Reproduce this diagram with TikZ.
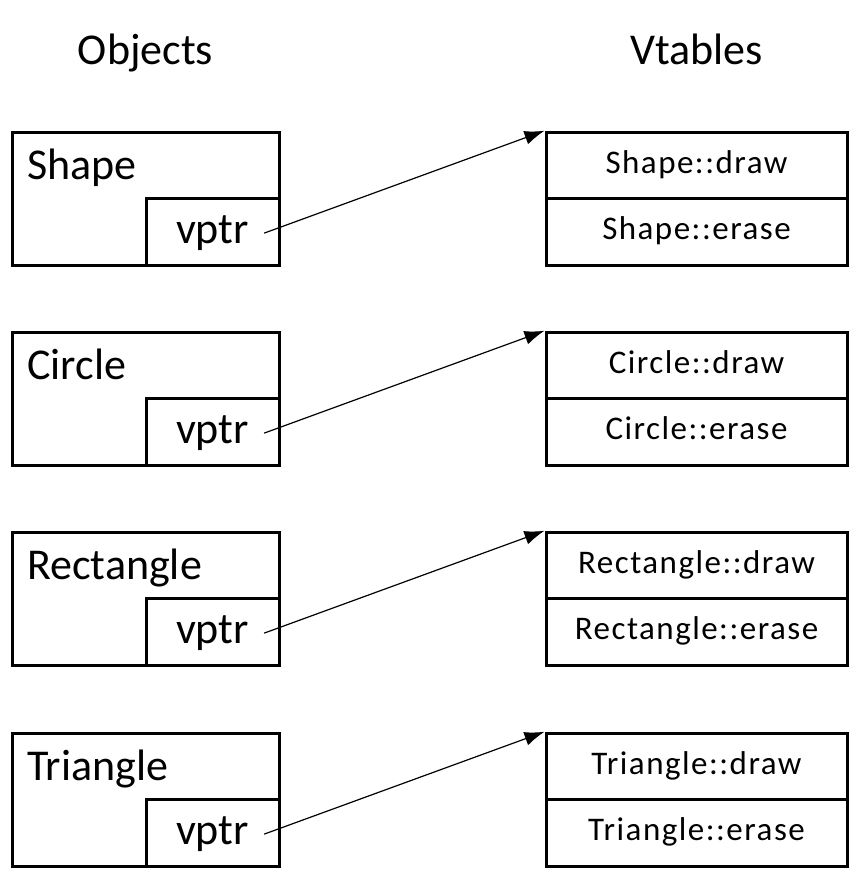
\documentclass[tikz,border=0pt]{standalone}
\usepackage{fontspec}
\setmainfont{Carlito}
\newfontfamily\cellfont[LetterSpace=4.5]{Carlito}
\usetikzlibrary{arrows.meta}

\begin{document}
\begin{tikzpicture}[x=1pt, y=-1pt,
    obj/.style={draw, line width=3pt, minimum width=267pt, minimum height=133pt, inner sep=0pt},
    ptrbox/.style={draw, line width=3pt, minimum width=133pt, minimum height=66.5pt, inner sep=0pt},
    cell/.style={draw, line width=3pt, minimum width=301pt, minimum height=66.5pt, inner sep=0pt,
        text height=20pt, text depth=5pt, font=\cellfont\fontsize{33}{40}\selectfont},
    big/.style={font=\fontsize{44}{53}\selectfont, inner sep=0pt},
    vp/.style={big, inner xsep=15pt, anchor=base},
    ptr/.style={-{Latex[length=20pt, width=14pt]}, line width=1.2pt}]
    \useasboundingbox (0,0) rectangle (859,872);
    \node[big, anchor=base] (T1) at (145.5,65) {Objects};
    \node[big, anchor=base] (T2) at (696.5,65) {Vtables};
    % Shape
    \node[obj] (O1) at (145.5,198.5) {};
    \node[ptrbox] (P1) at (212.5,232) {};
    \node[big, anchor=base west] (L1) at (27,179) {Shape};
    \node[vp] (V1) at (212.5,243.5) {vptr};
    \node[cell] (D1) at (696.5,165.5) {Shape::draw};
    \node[cell] (E1) at (696.5,232) {Shape::erase};
    \draw[ptr] (V1.east) -- (D1.north west);
    % Circle
    \node[obj] (O2) at (145.5,398.5) {};
    \node[ptrbox] (P2) at (212.5,432) {};
    \node[big, anchor=base west] (L2) at (27,379) {Circle};
    \node[vp] (V2) at (212.5,443.5) {vptr};
    \node[cell] (D2) at (696.5,365.5) {Circle::draw};
    \node[cell] (E2) at (696.5,432) {Circle::erase};
    \draw[ptr] (V2.east) -- (D2.north west);
    % Rectangle
    \node[obj] (O3) at (145.5,598.5) {};
    \node[ptrbox] (P3) at (212.5,632) {};
    \node[big, anchor=base west] (L3) at (27,579) {Rectangle};
    \node[vp] (V3) at (212.5,643.5) {vptr};
    \node[cell] (D3) at (696.5,565.5) {Rectangle::draw};
    \node[cell] (E3) at (696.5,632) {Rectangle::erase};
    \draw[ptr] (V3.east) -- (D3.north west);
    % Triangle
    \node[obj] (O4) at (145.5,799.5) {};
    \node[ptrbox] (P4) at (212.5,833) {};
    \node[big, anchor=base west] (L4) at (27,780) {Triangle};
    \node[vp] (V4) at (212.5,844.5) {vptr};
    \node[cell] (D4) at (696.5,766.5) {Triangle::draw};
    \node[cell] (E4) at (696.5,833) {Triangle::erase};
    \draw[ptr] (V4.east) -- (D4.north west);
\end{tikzpicture}
\end{document}
